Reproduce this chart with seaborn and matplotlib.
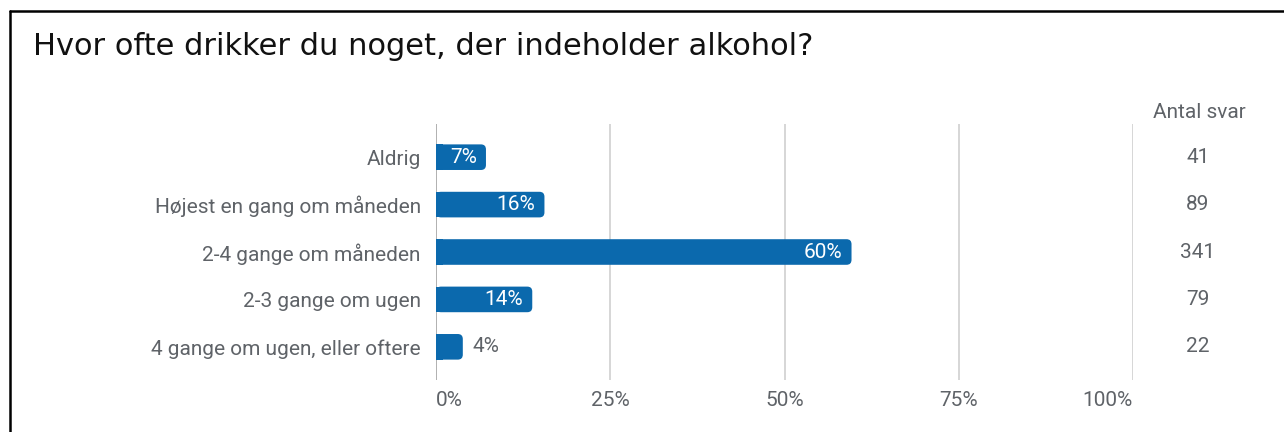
import matplotlib
matplotlib.use("Agg")
import matplotlib.pyplot as plt
import matplotlib.transforms as mtrans
import seaborn as sns
import pandas as pd
from matplotlib.patches import FancyBboxPatch, Rectangle

title = "Hvor ofte drikker du noget, der indeholder alkohol?"
categories = ["Aldrig", "Højest en gang om måneden", "2-4 gange om måneden",
              "2-3 gange om ugen", "4 gange om ugen, eller oftere"]
counts = [41, 89, 341, 79, 22]
pct_labels = ["7%", "16%", "60%", "14%", "4%"]
x_ticks = [0, 25, 50, 75, 100]
x_ticklabels = ["0%", "25%", "50%", "75%", "100%"]
count_header = "Antal svar"

total = sum(counts)
df = pd.DataFrame({"cat": categories, "pct": [c / total * 100 for c in counts]})

BLUE = "#0b69ad"
GRAY = "#5f6368"
FS = 15

sns.set_theme(style="white")
plt.rcParams["font.family"] = ["Roboto", "DejaVu Sans"]

fig = plt.figure(figsize=(12.84, 4.32), dpi=100)
ax = fig.add_axes([436 / 1284, 1 - 380 / 432, (1133 - 436) / 1284, (380 - 124) / 432])

sns.barplot(data=df, x="pct", y="cat", color=BLUE, saturation=1, width=0.54,
            ax=ax, orient="h")
ax.set_xlim(0, 100)
ax.set_ylim(4.7, -0.7)

# rounded bars (right end rounded, left end square)
px_x = ax.get_position().width * 1284 / 100.0
px_y = ax.get_position().height * 432 / 5.4
r_px = 5
old = list(ax.patches)
for p in old:
    x0, y0, w, h = p.get_x(), p.get_y(), p.get_width(), p.get_height()
    p.remove()
    fb = FancyBboxPatch((x0, y0), w, h,
                        boxstyle=f"round,pad=0,rounding_size={r_px / px_x}",
                        mutation_aspect=(px_x / px_y),
                        facecolor=BLUE, edgecolor="none", zorder=3)
    ax.add_patch(fb)
    ax.add_patch(Rectangle((x0, y0), min(w * 0.5, 1.0), h, facecolor=BLUE,
                           edgecolor="none", zorder=3))

for i, (v, lab) in enumerate(zip(df["pct"], pct_labels)):
    if v > 5:
        ax.text(v - 1.3, i, lab, ha="right", va="center", color="white",
                fontsize=FS, zorder=5)
    else:
        ax.text(v + 1.45, i, lab, ha="left", va="center", color=GRAY,
                fontsize=FS, zorder=5)

for t in x_ticks:
    ax.axvline(t, color="#d6d6d6" if t else "#b0b0b0", lw=1.4, zorder=1)

ax.set_xticks(x_ticks)
ax.set_xticklabels(x_ticklabels, color=GRAY, fontsize=FS)
tls = ax.get_xticklabels()
tls[0].set_horizontalalignment("left")
tls[-1].set_horizontalalignment("right")
ax.tick_params(axis="x", length=0, pad=8)
ax.tick_params(axis="y", length=0, pad=11, labelsize=FS, labelcolor=GRAY)
ax.set_xlabel("")
ax.set_ylabel("")
for s in ax.spines.values():
    s.set_visible(False)

# counts column
tr = mtrans.blended_transform_factory(fig.transFigure, ax.transData)
for i, c in enumerate(counts):
    ax.text(1198 / 1284, i, str(c), transform=tr, ha="center", va="center",
            color=GRAY, fontsize=FS)
fig.text(1199 / 1284, 1 - 113 / 432, count_header, ha="center", va="center",
         color=GRAY, fontsize=FS)

fig.text(33 / 1284, 1 - 55 / 432, title, ha="left", va="baseline",
         color="#111111", fontsize=22, family="DejaVu Sans")

# frame
fig.add_artist(plt.Line2D([9.5 / 1284, 9.5 / 1284], [0, 1 - 11 / 432],
                          transform=fig.transFigure, color="black", lw=1.8))
fig.add_artist(plt.Line2D([9.5 / 1284, 1], [1 - 11 / 432, 1 - 11 / 432],
                          transform=fig.transFigure, color="black", lw=1.8))

fig.savefig("out.png", dpi=100)
